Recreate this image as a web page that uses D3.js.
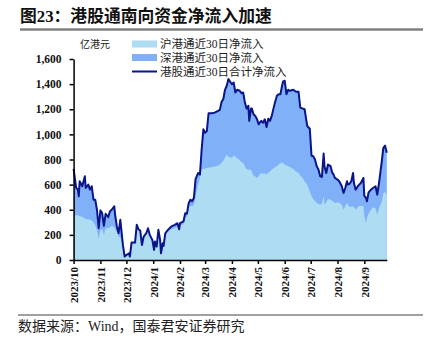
<!DOCTYPE html>
<html><head><meta charset="utf-8">
<script src="https://cdn.jsdelivr.net/npm/d3@7/dist/d3.min.js"></script>
<style>
html,body{margin:0;padding:0;background:#fff;}
svg{display:block;}
</style></head>
<body>
<svg id="c" width="429" height="347"></svg>
<script>
const title = "图23：港股通南向资金净流入加速";
const unitLabel = "亿港元";
const source = "数据来源：Wind，国泰君安证券研究";
const seriesNames = ["沪港通近30日净流入", "深港通近30日净流入", "港股通近30日合计净流入"];
const yTicks = [0, 200, 400, 600, 800, 1000, 1200, 1400, 1600];
const xTickLabels = ["2023/10","2023/11","2023/12","2024/1","2024/2","2024/3","2024/4","2024/5","2024/6","2024/7","2024/8","2024/9"];

const dates = ["2023-10-01","2023-10-04","2023-10-06","2023-10-07","2023-10-08","2023-10-11","2023-10-14","2023-10-15","2023-10-18","2023-10-20","2023-10-22","2023-10-24","2023-10-26","2023-10-28","2023-10-30",
"2023-11-01","2023-11-03","2023-11-05","2023-11-07","2023-11-10","2023-11-12","2023-11-14","2023-11-17","2023-11-18","2023-11-20","2023-11-22","2023-11-24","2023-11-27","2023-11-29",
"2023-12-01","2023-12-04","2023-12-05","2023-12-07","2023-12-11","2023-12-13","2023-12-15","2023-12-17","2023-12-19","2023-12-21","2023-12-24","2023-12-26","2023-12-28","2023-12-31",
"2024-01-02","2024-01-03","2024-01-05","2024-01-07","2024-01-09","2024-01-10","2024-01-12","2024-01-13","2024-01-15","2024-01-18","2024-01-22","2024-01-26","2024-01-29","2024-01-31",
"2024-02-01","2024-02-05","2024-02-07","2024-02-09","2024-02-11","2024-02-13","2024-02-15","2024-02-17","2024-02-19","2024-02-22","2024-02-24","2024-02-26","2024-02-28",
"2024-03-01","2024-03-03","2024-03-05","2024-03-09","2024-03-12","2024-03-16","2024-03-18","2024-03-20","2024-03-22","2024-03-24","2024-03-26","2024-03-28","2024-03-30",
"2024-04-01","2024-04-03","2024-04-05","2024-04-07","2024-04-10","2024-04-12","2024-04-14","2024-04-16","2024-04-18","2024-04-20","2024-04-21","2024-04-23","2024-04-24","2024-04-26","2024-04-28","2024-04-30",
"2024-05-02","2024-05-03","2024-05-05","2024-05-07","2024-05-09","2024-05-11","2024-05-13","2024-05-15","2024-05-17","2024-05-19","2024-05-21","2024-05-23","2024-05-25","2024-05-27","2024-05-29","2024-05-30",
"2024-06-01","2024-06-03","2024-06-05","2024-06-07","2024-06-11","2024-06-14","2024-06-17","2024-06-19","2024-06-22","2024-06-24","2024-06-27","2024-06-30",
"2024-07-02","2024-07-04","2024-07-06","2024-07-08","2024-07-10","2024-07-12","2024-07-14","2024-07-16","2024-07-17","2024-07-19","2024-07-21","2024-07-24","2024-07-26","2024-07-27","2024-07-29",
"2024-08-01","2024-08-03","2024-08-06","2024-08-08","2024-08-10","2024-08-12","2024-08-13","2024-08-15","2024-08-17","2024-08-19","2024-08-20","2024-08-22","2024-08-25","2024-08-28","2024-08-31",
"2024-09-01","2024-09-03","2024-09-04","2024-09-06","2024-09-08","2024-09-11","2024-09-14","2024-09-16","2024-09-18","2024-09-21","2024-09-23","2024-09-25","2024-09-27"];

const totalFlow = [725,575,560,507,627,587,667,573,600,560,587,480,480,400,253,
395,373,272,368,341,387,400,427,360,267,213,320,120,27,
40,53,27,139,139,280,245,235,120,187,213,253,200,160,
80,147,107,240,160,53,133,112,213,240,267,280,293,245,
293,307,373,368,453,480,467,493,645,693,680,880,1040,
1013,1027,1168,1168,1173,1187,1195,1259,1280,1355,1387,1440,1419,
1400,1413,1333,1355,1347,1328,1333,1253,1205,1227,1107,1205,1205,1160,1147,1120,
1080,1093,1107,1093,1120,1059,1125,1107,1147,1205,1259,1307,1320,1320,1387,1419,
1427,1320,1355,1347,1355,1339,1339,1213,1205,1200,1067,1045,
830,827,800,747,720,667,661,848,747,693,760,747,693,688,653,
640,627,587,533,573,627,600,608,627,693,613,560,592,613,653,
512,493,467,539,555,573,587,520,613,773,893,910,853];

const shFlow = [352,355,360,345,350,345,330,325,325,320,315,300,275,240,170,
240,245,200,250,255,260,270,265,245,220,190,180,100,22,
35,48,22,130,130,270,238,228,112,180,205,245,192,152,
72,138,98,230,150,45,122,102,200,222,245,255,265,225,
275,285,340,345,427,430,430,440,507,600,650,720,725,
728,733,735,740,745,750,760,773,790,815,840,821,815,
813,832,821,810,795,780,773,745,720,725,715,720,700,672,665,653,
670,680,693,685,690,680,695,705,720,730,740,747,760,770,779,770,
760,752,747,740,725,705,693,670,650,625,600,547,
510,485,470,453,445,440,450,507,440,460,485,480,470,465,453,
460,455,440,400,430,453,440,421,425,427,420,400,425,432,427,
350,293,333,370,395,421,410,360,413,460,533,540,520];

const colors = { sh: "#aedcf3", sz: "#80b0f8", total: "#0a158a" };

const parse = d3.timeParse("%Y-%m-%d");
const data = dates.map((d, i) => ({ date: parse(d), total: totalFlow[i], sh: shFlow[i] }));

const svg = d3.select("#c");
svg.append("rect").attr("width", 429).attr("height", 347).attr("fill", "#fff");

const serifCJK = "'Liberation Serif','Noto Sans CJK SC',serif";

// title
svg.append("text").attr("x", 20).attr("y", 22)
  .attr("font-family", serifCJK).attr("font-weight", "bold").attr("font-size", 16.8)
  .attr("fill", "#111").text(title);
svg.append("line").attr("x1", 20).attr("x2", 423).attr("y1", 29.5).attr("y2", 29.5)
  .attr("stroke", "#808080").attr("stroke-width", 2.5);

const x = d3.scaleTime().domain([parse("2023-10-01"), parse("2024-09-27")]).range([73.6, 386.8]);
const y = d3.scaleLinear().domain([0, 1600]).range([260, 59]);

const g = svg.append("g");

// medium area (SZ stacked on SH) -> top is total
g.append("path").datum(data)
  .attr("fill", colors.sz)
  .attr("d", d3.area().x(d => x(d.date)).y0(y(0)).y1(d => y(d.total)));
// light area SH
g.append("path").datum(data)
  .attr("fill", colors.sh)
  .attr("d", d3.area().x(d => x(d.date)).y0(y(0)).y1(d => y(d.sh)));
// total line
g.append("path").datum(data)
  .attr("fill", "none").attr("stroke", colors.total).attr("stroke-width", 2)
  .attr("stroke-linejoin", "round")
  .attr("d", d3.line().x(d => x(d.date)).y(d => y(d.total)));

// axes
const yAxis = g.append("g").attr("transform", `translate(${x.range()[0]},0)`)
  .call(d3.axisLeft(y).tickValues(yTicks).tickFormat(d3.format(",")).tickSize(4).tickSizeOuter(0));
yAxis.selectAll("text").attr("font-family", "'Liberation Serif',serif").attr("font-weight", "bold")
  .attr("font-size", 11.5).attr("fill", "#111").attr("x", -12);
yAxis.selectAll("line, path").attr("stroke", "#000").attr("stroke-width", 1.5);

const monthTicks = xTickLabels.map(s => { const [yy, mm] = s.split("/"); return new Date(+yy, +mm - 1, 1); });
const xAxis = g.append("g").attr("transform", `translate(0,${y(0)})`)
  .call(d3.axisBottom(x).tickValues(monthTicks).tickFormat((d, i) => xTickLabels[i]).tickSize(4).tickSizeOuter(0));
xAxis.selectAll("line, path").attr("stroke", "#000").attr("stroke-width", 1.5);
xAxis.selectAll("text")
  .attr("font-family", "'Liberation Serif',serif").attr("font-weight", "bold").attr("font-size", 11)
  .attr("fill", "#111")
  .attr("text-anchor", "end").attr("transform", "rotate(-90)")
  .attr("x", -7).attr("y", 0).attr("dy", "0.35em");

// unit
svg.append("text").attr("x", 80).attr("y", 48)
  .attr("font-family", "'Noto Sans CJK SC',sans-serif").attr("font-size", 10)
  .attr("fill", "#222").text(unitLabel);

// legend
const legY = [44, 57.5, 71.5];
const lg = svg.append("g");
lg.append("rect").attr("x", 132).attr("y", legY[0] - 3.5).attr("width", 25).attr("height", 7).attr("fill", colors.sh);
lg.append("rect").attr("x", 132).attr("y", legY[1] - 3.5).attr("width", 25).attr("height", 7).attr("fill", colors.sz);
lg.append("line").attr("x1", 132).attr("x2", 157).attr("y1", legY[2]).attr("y2", legY[2])
  .attr("stroke", colors.total).attr("stroke-width", 2);
seriesNames.forEach((s, i) => {
  lg.append("text").attr("x", 160).attr("y", legY[i]).attr("dy", "0.36em")
    .attr("font-family", serifCJK).attr("font-size", 11.5).attr("fill", "#222").text(s);
});

// source
svg.append("line").attr("x1", 18).attr("x2", 423).attr("y1", 315).attr("y2", 315)
  .attr("stroke", "#808080").attr("stroke-width", 1.5);
svg.append("text").attr("x", 18).attr("y", 331)
  .attr("font-family", serifCJK).attr("font-size", 14).attr("fill", "#222").text(source);
</script>
</body></html>
